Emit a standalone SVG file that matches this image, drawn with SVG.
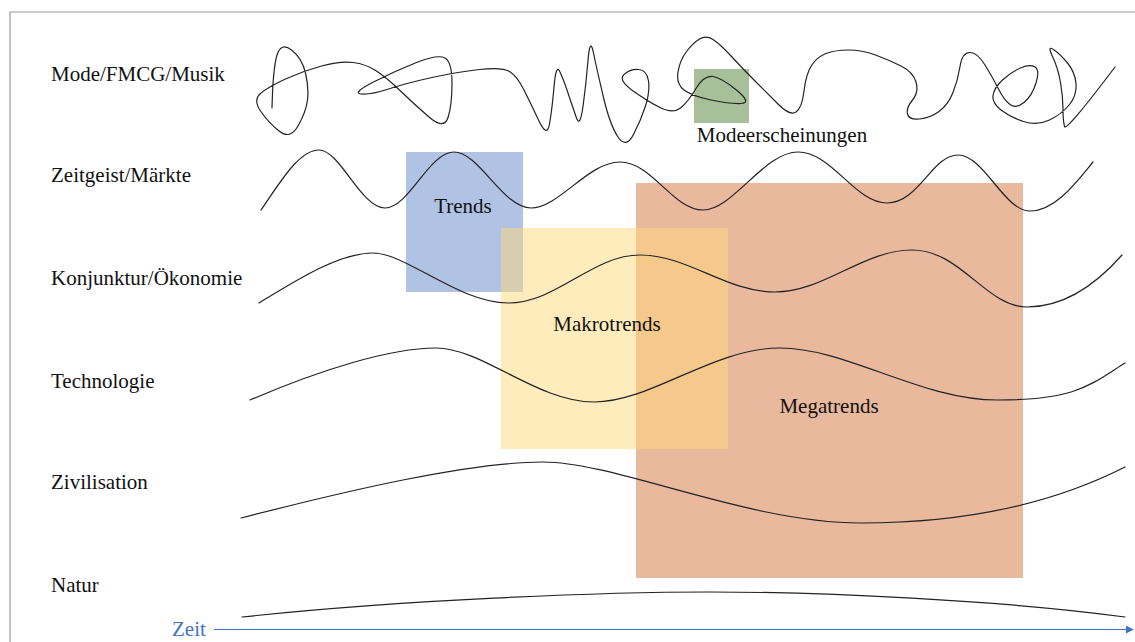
<svg xmlns="http://www.w3.org/2000/svg" width="1135" height="642" viewBox="0 0 1135 642">
<style>
  .lbl{font-family:'Liberation Serif','DejaVu Serif',serif;font-size:21px;fill:#111}
  .wave{fill:none;stroke:#222;stroke-width:1.2;stroke-linecap:round;stroke-linejoin:round}
  .axis{fill:none;stroke:#4472C4;stroke-width:1.2}
</style>
<defs>
  <marker id="arr" viewBox="0 0 10 10" refX="9" refY="5" markerWidth="8" markerHeight="8" markerUnits="userSpaceOnUse" orient="auto">
    <path d="M0 0 L10 5 L0 10 Z" fill="#4472C4"/>
  </marker>
</defs>
<rect x="0" y="0" width="1135" height="642" fill="#fff"/>
<path d="M10 642 L10 12 L1135 12" fill="none" stroke="#9a9a9a" stroke-width="1.2"/>

<g id="megatrends">
  <rect x="636" y="183" width="387" height="395" fill="#E8B99C"/>
</g>
<g id="trends">
  <rect x="406" y="152" width="117" height="140" fill="#B0C3E5"/>
</g>
<g id="makrotrends">
  <rect x="501" y="228" width="227" height="221" fill="#FFD97A" fill-opacity="0.5"/>
</g>
<g id="modeerscheinungen">
  <rect x="694" y="69" width="55" height="54" fill="#A8C09A"/>
</g>

<g id="waves">
  <path class="wave" d="M272 108 Q273 68 277 55 Q281 42 291.5 50 Q302 58 305.5 73 Q309 88 307.5 100 Q306 112 298 126 Q290 140 279 131 Q268 122 260.5 111 Q253 100 260.5 93.5 Q268 87 285.5 79 Q303 71 321.5 66 Q340 61 353 62.5 Q366 64 376.5 71 Q387 78 400.5 91 Q414 104 429 117 Q444 130 448 117.5 Q452 105 452 83.5 Q452 62 445 58 Q438 54 416.5 62.5 Q395 71 373.5 82 Q352 93 361 94 Q370 95 388.5 89 Q407 83 432 77.5 Q457 72 479.5 69.5 Q502 67 509.5 71.5 Q517 76 524 90 Q531 104 539 121 Q547 138 549.5 124 Q552 110 554 87 Q556 64 559.5 71 Q563 78 568 93 Q573 108 576.5 118 Q580 128 583 106.5 Q586 85 588 60.5 Q590 36 593.5 53 Q597 70 603.5 97.5 Q610 125 618 137 Q626 149 633.5 134.5 Q641 120 645.5 106 Q650 92 648.5 81 Q647 70 638.5 69.5 Q630 69 624 74.5 Q618 80 632.5 90.5 Q647 101 660 107.5 Q673 114 680.5 108 Q688 102 696 88.5 Q704 75 713 76.5 Q722 78 737 90.5 Q752 103 741 103.5 Q730 104 711 100 Q692 96 684 90 Q676 84 678 72 Q680 60 686.5 51.5 Q693 43 699.5 39 Q706 35 713 39.5 Q720 44 731.5 56.5 Q743 69 755 81 Q767 93 778.5 104.5 Q790 116 796 112 Q802 108 804 91 Q806 74 811.5 65.5 Q817 57 826 53.5 Q835 50 848.5 50 Q862 50 875.5 55 Q889 60 901 66 Q913 72 916 82 Q919 92 912.5 100 Q906 108 907.5 114 Q909 120 919.5 119 Q930 118 939 111.5 Q948 105 953 92.5 Q958 80 960 66.5 Q962 53 969.5 52.5 Q977 52 985 65 Q993 78 998.5 89 Q1004 100 1010 104.5 Q1016 109 1024 102.5 Q1032 96 1036 83 Q1040 70 1035 67 Q1030 64 1020.5 68 Q1011 72 1002.5 80 Q994 88 993 95.5 Q992 103 1001 110 Q1010 117 1023.5 121.5 Q1037 126 1049.5 120 Q1062 114 1069.5 104.5 Q1077 95 1076 83.5 Q1075 72 1067.5 63 Q1060 54 1053.5 49.5 Q1047 45 1052.5 56.5 Q1058 68 1060.5 82.5 Q1063 97 1063 109 Q1063 121 1064.5 126.5 Q1066 132 1115 67"/>
  <path class="wave" d="M261 210 C278 186 298 150 319 150 S361 208 385 208 S429 152 454 152 S503 208 531 208 S588 162 620 162 S673 210 703 210 S764 152 798 152 S855 203 887 203 S932 155 958 155 S1004 211 1030 211 S1078 180 1093 162"/>
  <path class="wave" d="M259 303 C300 278 340 253 373 253 S459 303 508 303 S592 255 640 255 S726 292 775 292 S863 250 912 250 S986 307 1027 307 S1100 280 1122 255"/>
  <path class="wave" d="M250 400 C320 370 390 348 436 348 S537 402 594 402 S713 348 780 348 S920 400 998 400 S1090 385 1125 363"/>
  <path class="wave" d="M241 518 C350 490 470 462 543 462 S747 523 861 523 S1060 500 1125 467"/>
  <path class="wave" d="M242 617 C400 600 600 592 710 592 S1000 600 1125 617"/>
</g>

<g id="connectors">
  <path class="axis" d="M214 629.5 L1133 629.5" marker-end="url(#arr)"/>
</g>

<g id="labels" font-family="Liberation Serif, DejaVu Serif, serif">
  <text class="lbl" x="51" y="81">Mode/FMCG/Musik</text>
  <text class="lbl" x="51" y="182">Zeitgeist/Märkte</text>
  <text class="lbl" x="51" y="285">Konjunktur/Ökonomie</text>
  <text class="lbl" x="51" y="388">Technologie</text>
  <text class="lbl" x="51" y="489">Zivilisation</text>
  <text class="lbl" x="51" y="592">Natur</text>
  <text class="lbl" x="172" y="636" style="fill:#4472C4">Zeit</text>
  <text class="lbl" x="463" y="213" text-anchor="middle">Trends</text>
  <text class="lbl" x="607" y="331" text-anchor="middle">Makrotrends</text>
  <text class="lbl" x="829" y="413" text-anchor="middle">Megatrends</text>
  <text class="lbl" x="782" y="142" text-anchor="middle">Modeerscheinungen</text>
</g>
</svg>
